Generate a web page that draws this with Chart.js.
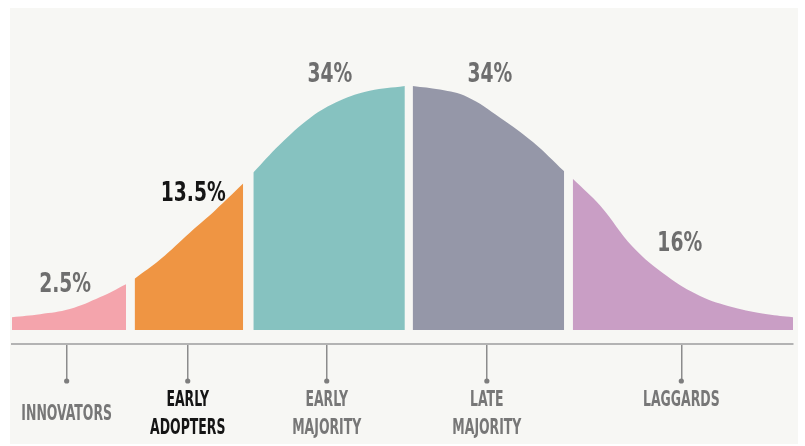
<!DOCTYPE html>
<html>
<head>
<meta charset="utf-8">
<script src="https://cdn.jsdelivr.net/npm/chart.js@4.4.0/dist/chart.umd.min.js"></script>
<style>
  html, body { margin: 0; padding: 0; background: #fff; }
  #wrap { position: relative; width: 805px; height: 446px; }
  #panel { position: absolute; left: 10px; top: 8px; width: 788px; height: 436px; background: #f7f7f4; }
  #curve { position: absolute; left: 0; top: 0; }
</style>
</head>
<body>
<div id="wrap">
  <div id="panel"></div>
  <canvas id="curve" width="805" height="446"></canvas>
</div>
<script>
// adopter groups, left to right
const groups = ['INNOVATORS', 'EARLY ADOPTERS', 'EARLY MAJORITY', 'LATE MAJORITY', 'LAGGARDS'];
const groupLines = [['INNOVATORS'], ['EARLY', 'ADOPTERS'], ['EARLY', 'MAJORITY'], ['LATE', 'MAJORITY'], ['LAGGARDS']];
const shares = ['2.5%', '13.5%', '34%', '34%', '16%'];

// curve outline of each segment (x: 0-100 across, y: relative height, peak = 100)
const innovatorsX = [0, 3.6, 7.4, 11.3, 14.6];
const innovatorsY = [5.3, 6.5, 8.6, 13.5, 18.8];
const earlyAdoptersX = [15.7, 19.0, 22.8, 26.0, 29.6];
const earlyAdoptersY = [21, 29, 40, 49, 60];
const earlyMajorityX = [30.9, 34.3, 38.2, 42.0, 45.8, 50.3];
const earlyMajorityY = [64.5, 76, 87, 94, 98, 100];
const lateMajorityX = [51.3, 54.8, 58.3, 62.5, 66.7, 70.7];
const lateMajorityY = [100, 98.5, 95.5, 87, 77, 65];
const laggardsX = [71.8, 75.3, 79.5, 83.9, 88.1, 92.3, 96.7, 100];
const laggardsY = [62, 51, 34, 22, 14, 9.4, 6.5, 5.3];

// where the axis ticks for each group sit on the x scale
const tickPos = [7.0, 22.5, 40.3, 60.8, 85.7];

const segX = [innovatorsX, earlyAdoptersX, earlyMajorityX, lateMajorityX, laggardsX];
const segY = [innovatorsY, earlyAdoptersY, earlyMajorityY, lateMajorityY, laggardsY];
const colors = ['#f4a4ac', '#ef9543', '#86c2c0', '#9597a8', '#c99ec5'];

// label anchors in data units and text styling
const shareAt = [[6.8, 15.5], [23.2, 53], [40.7, 101.6], [61.2, 101.6], [85.5, 32.2]];
const shareColor = ['#6e6e6e', '#151515', '#6e6e6e', '#6e6e6e', '#6e6e6e'];
const nameColor = ['#777777', '#151515', '#777777', '#777777', '#777777'];
const nameRowShift = [0.5, 0, 0, 0, 0];
const FONT = '"Liberation Sans Narrow", "DejaVu Sans Condensed", sans-serif';

function squeezeText(ctx, text, cx, baseY, size, color, sx) {
  ctx.save();
  ctx.font = 'bold ' + size + 'px ' + FONT;
  ctx.fillStyle = color;
  ctx.textAlign = 'center';
  ctx.textBaseline = 'alphabetic';
  ctx.translate(cx, baseY);
  ctx.scale(sx, 1);
  ctx.fillText(text, 0, 0);
  ctx.restore();
}

const labelPlugin = {
  id: 'groupLabels',
  afterDraw(chart) {
    const { ctx, chartArea, scales: { x, y } } = chart;
    shares.forEach((s, i) => {
      squeezeText(ctx, s, x.getPixelForValue(shareAt[i][0]), y.getPixelForValue(shareAt[i][1]), 26, shareColor[i], 0.8);
    });
    const tickEnd = chartArea.bottom + 37;
    tickPos.forEach((v, i) => {
      const px = x.getPixelForValue(v);
      ctx.beginPath();
      ctx.arc(px, tickEnd, 2.6, 0, Math.PI * 2);
      ctx.fillStyle = '#7d7d7d';
      ctx.fill();
      groupLines[i].forEach((line, j) => {
        const base = chartArea.bottom + 62 + (j + nameRowShift[i]) * 28;
        squeezeText(ctx, line, px, base, 22, nameColor[i], 0.63);
      });
    });
  }
};

const datasets = groups.map((g, i) => ({
  label: g,
  data: segX[i].map((xv, k) => ({ x: xv, y: segY[i][k] })),
  backgroundColor: colors[i],
  borderWidth: 0,
  pointRadius: 0,
  fill: 'origin',
  tension: 0.4
}));

new Chart(document.getElementById('curve').getContext('2d'), {
  type: 'line',
  data: { datasets },
  options: {
    responsive: false,
    animation: false,
    layout: { padding: { top: 40, left: 12, right: 12, bottom: 65 } },
    plugins: { legend: { display: false }, tooltip: { enabled: false } },
    scales: {
      x: {
        type: 'linear', min: 0, max: 100,
        afterBuildTicks: s => { s.ticks = tickPos.map(v => ({ value: v })); },
        ticks: { display: false },
        grid: { drawOnChartArea: false, drawTicks: true, tickLength: 37, color: '#8c8c8c', lineWidth: 1.5 },
        border: { display: true, color: '#b3b3b3', width: 2 }
      },
      y: { display: false, min: -5.7, max: 118.8 }
    }
  },
  plugins: [labelPlugin]
});
</script>
</body>
</html>
